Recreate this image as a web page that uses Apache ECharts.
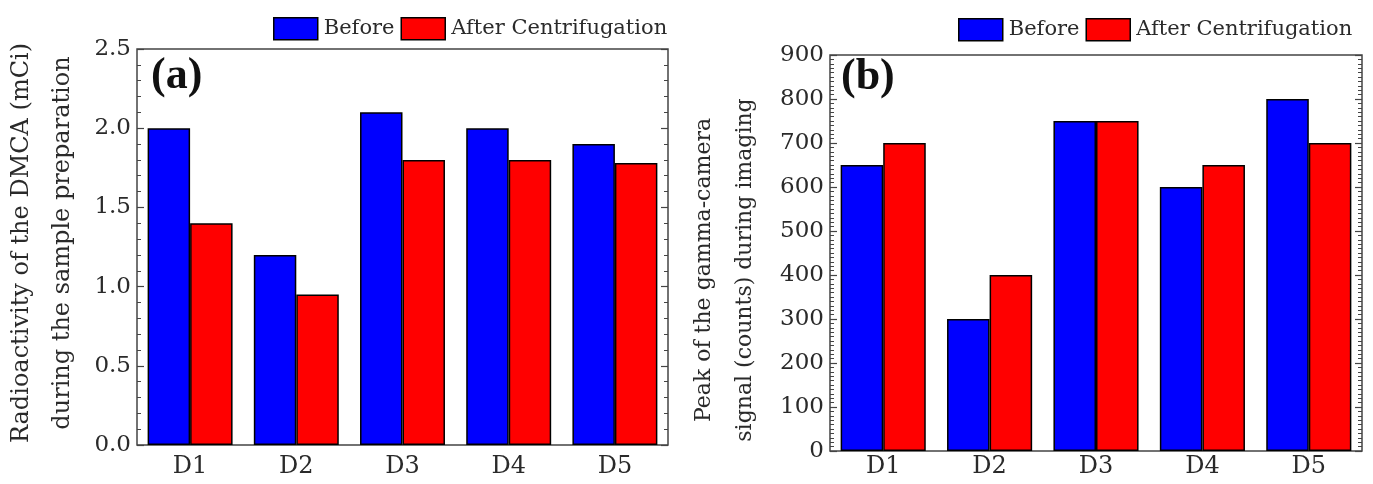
<!DOCTYPE html>
<html>
<head>
<meta charset="utf-8">
<script src="https://cdn.jsdelivr.net/npm/echarts@6/dist/echarts.min.js"></script>
<style>
html,body{margin:0;padding:0;background:#fff;}
#chart{width:1373px;height:484px;}
</style>
</head>
<body>
<div id="chart"></div>
<script>
const categories = ['D1', 'D2', 'D3', 'D4', 'D5'];
const seriesNames = ['Before', 'After Centrifugation'];
const radioBefore = [2.0, 1.2, 2.1, 2.0, 1.9];
const radioAfter = [1.4, 0.95, 1.8, 1.8, 1.78];
const peakBefore = [650, 300, 750, 600, 800];
const peakAfter = [700, 400, 750, 650, 700];
const titleA = 'Radioactivity of the DMCA (mCi)\nduring the sample preparation';
const titleB = 'Peak of the gamma-camera\nsignal (counts) during imaging';
const panelLabels = ['(a)', '(b)'];

const FONT = '"DejaVu Serif", "Liberation Serif", serif';
const BOLDFONT = '"Liberation Serif", serif';
const TXT = '#2a2a2a';
const BLUE = '#0000FF';
const RED = '#FF0000';

const chart = echarts.init(document.getElementById('chart'));

function yPair(gridIndex, max, interval, minorSplit, name, nameGap, nameSize, namePad) {
  const common = {
    type: 'value', gridIndex: gridIndex, min: 0, max: max, interval: interval,
    axisLine: {show: false},
    axisTick: {show: true, inside: true, length: 7, lineStyle: {color: '#444', width: 1.2}},
    minorTick: {show: true, splitNumber: minorSplit, length: 4, lineStyle: {color: '#444', width: 1}},
    splitLine: {show: false}
  };
  return [
    Object.assign({}, common, {
      position: 'left',
      axisLabel: {show: true, color: TXT, fontFamily: FONT, fontSize: 23, margin: 6,
        formatter: function (v) { return interval < 1 ? v.toFixed(1) : String(v); }},
      name: name, nameLocation: 'middle', nameGap: nameGap, nameRotate: 90,
      nameTextStyle: {color: TXT, fontFamily: FONT, fontSize: nameSize, lineHeight: 41, padding: namePad}
    }),
    Object.assign({}, common, {position: 'right', axisLabel: {show: false}})
  ];
}

function xAx(gridIndex, margin) {
  return {
    type: 'category', gridIndex: gridIndex, data: categories,
    axisLine: {show: false},
    axisTick: {show: false},
    axisLabel: {color: TXT, fontFamily: FONT, fontSize: 24, margin: margin}
  };
}

function bar(name, data, color, xi, yi) {
  return {
    name: name, type: 'bar', data: data, xAxisIndex: xi, yAxisIndex: yi,
    barGap: '0%', barCategoryGap: '20%',
    itemStyle: {color: color, borderColor: '#000', borderWidth: 1.5},
    emphasis: {disabled: true}
  };
}

function legendAt(left, top) {
  return {
    data: seriesNames, left: left, top: top, orient: 'horizontal',
    icon: 'rect', itemWidth: 44, itemHeight: 22, itemGap: 6,
    itemStyle: {borderColor: '#000', borderWidth: 1.5},
    textStyle: {color: TXT, fontFamily: FONT, fontSize: 21, padding: [0, 0, 0, 1]},
    selectedMode: false
  };
}

const yA = yPair(0, 2.5, 0.5, 5, titleA, 54, 24, [0, 0, 0, 8]);
const yB = yPair(1, 900, 100, 10, titleB, 64, 22, [0, 34, 0, 0]);

const option = {
  backgroundColor: '#fff',
  animation: false,
  legend: [legendAt(268, 12), legendAt(953, 13)],
  grid: [
    {left: 135, right: 705, top: 49, bottom: 39, show: true, borderColor: '#444', borderWidth: 1.5, backgroundColor: 'transparent', containLabel: false},
    {left: 830, right: 11, top: 55, bottom: 33, show: true, borderColor: '#444', borderWidth: 1.5, backgroundColor: 'transparent', containLabel: false}
  ],
  xAxis: [xAx(0, 10), xAx(1, 4)],
  yAxis: [yA[0], yA[1], yB[0], yB[1]],
  series: [
    bar(seriesNames[0], radioBefore, BLUE, 0, 0),
    bar(seriesNames[1], radioAfter, RED, 0, 0),
    bar(seriesNames[0], peakBefore, BLUE, 1, 2),
    bar(seriesNames[1], peakAfter, RED, 1, 2)
  ],
  graphic: [
    {type: 'text', left: 151, top: 55, z: 100, style: {text: panelLabels[0], fill: '#111', font: 'bold 44px ' + BOLDFONT}},
    {type: 'text', left: 841, top: 56, z: 100, style: {text: panelLabels[1], fill: '#111', font: 'bold 44px ' + BOLDFONT}}
  ]
};
chart.setOption(option);
</script>
</body>
</html>
